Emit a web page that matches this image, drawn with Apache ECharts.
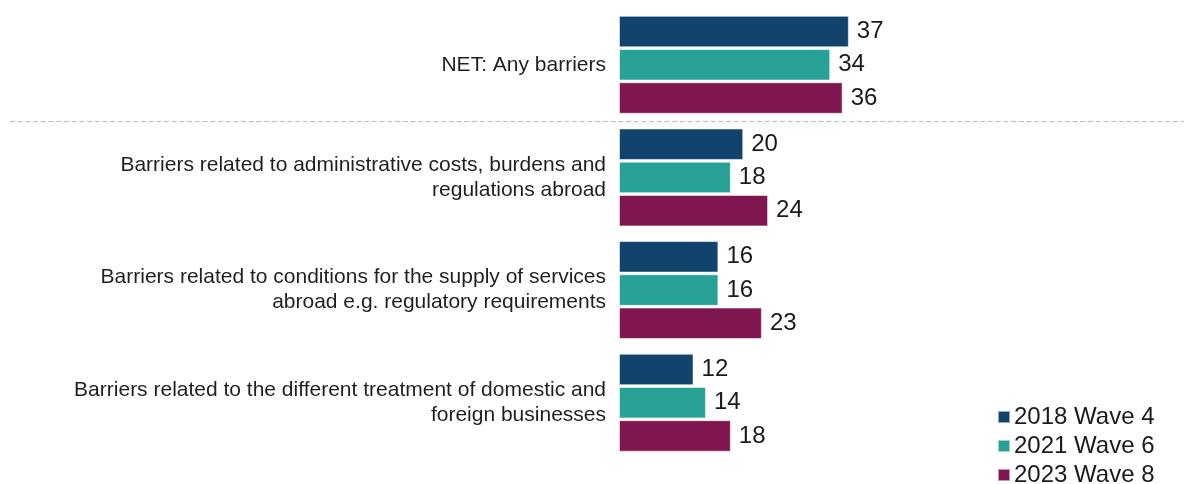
<!DOCTYPE html>
<html>
<head>
<meta charset="utf-8">
<script src="https://cdn.jsdelivr.net/npm/echarts@6/dist/echarts.min.js"></script>
<style>
  html, body { margin: 0; padding: 0; background: #ffffff; }
  #chart { width: 1184px; height: 484px; }
</style>
</head>
<body>
<div id="chart"></div>
<script>
// Barrier categories (top to bottom)
const categories = [
  'NET: Any barriers',
  'Barriers related to administrative costs, burdens and\nregulations abroad',
  'Barriers related to conditions for the supply of services\nabroad e.g. regulatory requirements',
  'Barriers related to the different treatment of domestic and\nforeign businesses'
];

// Survey waves
const waveNames = ['2018 Wave 4', '2021 Wave 6', '2023 Wave 8'];
const waveColors = ['#12436D', '#28A197', '#801650'];

// Percentage of businesses reporting each barrier
const wave2018 = [37, 20, 16, 12];
const wave2021 = [34, 18, 16, 14];
const wave2023 = [36, 24, 23, 18];

const waveValues = [wave2018, wave2021, wave2023];
const FONT = '"Liberation Sans", Arial, sans-serif';

const chart = echarts.init(document.getElementById('chart'), null, { renderer: 'canvas' });

const series = waveNames.map((name, i) => ({
  name: name,
  type: 'bar',
  data: waveValues[i],
  barWidth: 31.5,
  barGap: '5.5%',
  itemStyle: {
    color: waveColors[i],
    borderColor: 'rgba(255,255,255,0.55)',
    borderWidth: 1
  },
  label: {
    show: true,
    position: 'right',
    distance: 8,
    fontFamily: FONT,
    fontSize: 24,
    color: '#1a1a1a'
  },
  animation: false
}));

chart.setOption({
  animation: false,
  backgroundColor: '#ffffff',
  grid: { left: 619, right: 68, top: 8.5, bottom: 25 },
  xAxis: {
    type: 'value',
    min: 0,
    max: 80,
    show: false
  },
  yAxis: {
    type: 'category',
    data: categories,
    inverse: true,
    axisLine: { show: false },
    axisTick: { show: false },
    splitLine: { show: false },
    axisLabel: {
      margin: 13,
      fontFamily: FONT,
      fontSize: 21,
      lineHeight: 25,
      color: '#1f1f1f',
      align: 'right'
    }
  },
  legend: {
    orient: 'vertical',
    left: 997,
    top: 405,
    height: 120,
    itemWidth: 12,
    itemHeight: 12,
    itemGap: 5,
    padding: 0,
    icon: 'rect',
    textStyle: {
      fontFamily: FONT,
      fontSize: 24,
      lineHeight: 24,
      color: '#1a1a1a',
      padding: [0, 0, 0, -1]
    },
    data: waveNames
  },
  series: series
});

// Dashed separator between the NET row and the individual barriers
const yTop = chart.convertToPixel({ yAxisIndex: 0 }, categories[0]);
const yNext = chart.convertToPixel({ yAxisIndex: 0 }, categories[1]);
const ySep = Math.round((yTop + yNext) / 2) + 0.5;
chart.setOption({
  graphic: [{
    type: 'line',
    shape: { x1: 10, y1: ySep, x2: chart.getWidth(), y2: ySep },
    style: { stroke: '#b8b8b8', lineWidth: 1, lineDash: [5, 2.7] },
    silent: true
  }]
});
</script>
</body>
</html>
